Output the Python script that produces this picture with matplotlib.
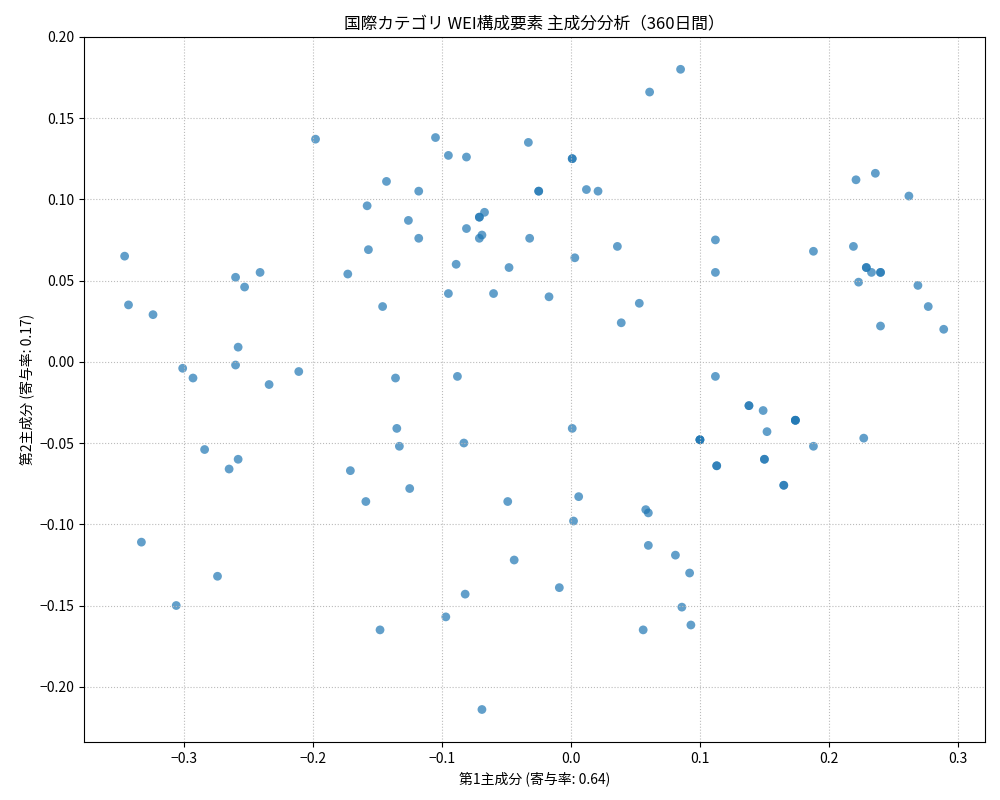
import matplotlib
matplotlib.use("Agg")
import matplotlib.pyplot as plt

plt.rcParams['font.family'] = ['Noto Sans CJK JP', 'DejaVu Sans']
plt.rcParams['axes.unicode_minus'] = True

pc1 = [0.085,0.061,-0.198,-0.105,-0.095,-0.081,-0.033,0.001,0.001,-0.143,-0.118,-0.025,-0.025,0.012,0.021,
       0.236,0.221,0.262,-0.158,-0.126,-0.067,-0.071,-0.071,-0.081,-0.069,-0.071,-0.118,-0.032,0.112,0.036,
       0.219,0.188,-0.346,-0.157,0.003,-0.089,-0.048,-0.260,-0.241,-0.173,0.112,0.229,0.229,0.233,0.240,0.240,
       0.223,0.269,-0.253,-0.060,-0.095,-0.017,-0.343,-0.146,0.053,0.277,-0.324,0.039,0.240,0.289,-0.258,
       -0.301,-0.260,-0.293,-0.234,-0.211,-0.136,-0.088,0.112,0.138,0.138,0.149,0.174,0.174,0.174,0.152,
       -0.135,0.001,0.100,0.100,0.100,0.227,-0.083,-0.133,0.188,-0.284,-0.258,0.150,0.150,0.113,0.113,
       -0.265,-0.171,0.165,0.165,-0.125,0.006,-0.049,-0.159,0.058,0.060,0.002,-0.333,0.060,0.081,-0.044,
       0.092,-0.274,-0.009,-0.082,-0.306,0.086,-0.097,0.093,-0.148,0.056,-0.069]
pc2 = [0.180,0.166,0.137,0.138,0.127,0.126,0.135,0.125,0.125,0.111,0.105,0.105,0.105,0.106,0.105,
       0.116,0.112,0.102,0.096,0.087,0.092,0.089,0.089,0.082,0.078,0.076,0.076,0.076,0.075,0.071,
       0.071,0.068,0.065,0.069,0.064,0.060,0.058,0.052,0.055,0.054,0.055,0.058,0.058,0.055,0.055,0.055,
       0.049,0.047,0.046,0.042,0.042,0.040,0.035,0.034,0.036,0.034,0.029,0.024,0.022,0.020,0.009,
       -0.004,-0.002,-0.010,-0.014,-0.006,-0.010,-0.009,-0.009,-0.027,-0.027,-0.030,-0.036,-0.036,-0.036,-0.043,
       -0.041,-0.041,-0.048,-0.048,-0.048,-0.047,-0.050,-0.052,-0.052,-0.054,-0.060,-0.060,-0.060,-0.064,-0.064,
       -0.066,-0.067,-0.076,-0.076,-0.078,-0.083,-0.086,-0.086,-0.091,-0.093,-0.098,-0.111,-0.113,-0.119,-0.122,
       -0.130,-0.132,-0.139,-0.143,-0.150,-0.151,-0.157,-0.162,-0.165,-0.165,-0.214]

fig, ax = plt.subplots(figsize=(10, 8), dpi=100)
ax.scatter(pc1, pc2, color='#1f77b4', alpha=0.7, s=40, edgecolors='none')
ax.set_xlim(-0.3775, 0.321)
ax.set_ylim(-0.234, 0.2)
ax.grid(True, linestyle=':', color='#bbbbbb')
ax.set_title('国際カテゴリ WEI構成要素 主成分分析（360日間）')
ax.set_xlabel('第1主成分 (寄与率: 0.64)')
ax.set_ylabel('第2主成分 (寄与率: 0.17)')
fig.subplots_adjust(left=0.084, right=0.985, top=0.954, bottom=0.0725)
fig.savefig('out.png')
